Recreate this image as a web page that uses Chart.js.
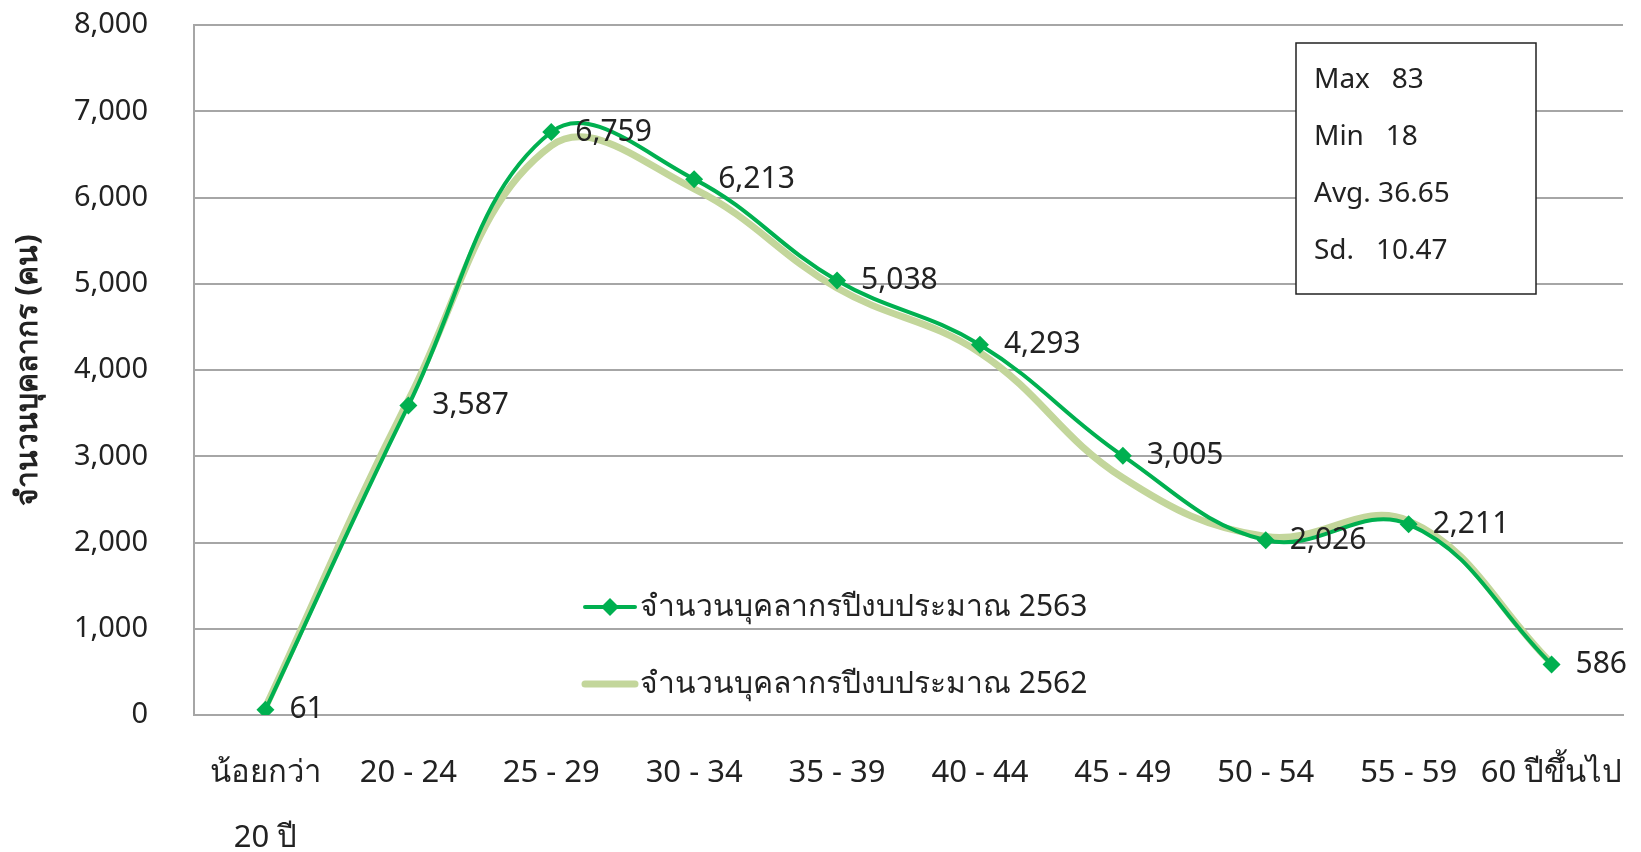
<!DOCTYPE html>
<html>
<head>
<meta charset="utf-8">
<script src="https://cdn.jsdelivr.net/npm/chart.js@4.4.0/dist/chart.umd.min.js"></script>
<style>
  html, body { margin: 0; padding: 0; background: #fff; }
  #wrap { width: 1641px; height: 852px; position: relative; }
</style>
</head>
<body>
<div id="wrap"><canvas id="lineChart" width="1641" height="852"></canvas></div>
<script>
// age groups
const categories = [['น้อยกว่า', '20 ปี'], '20 - 24', '25 - 29', '30 - 34', '35 - 39',
  '40 - 44', '45 - 49', '50 - 54', '55 - 59', '60 ปีขึ้นไป'];
// staff counts
const staff2563 = [61, 3587, 6759, 6213, 5038, 4293, 3005, 2026, 2211, 586];
const staff2562 = [90, 3650, 6600, 6100, 4950, 4200, 2750, 2070, 2250, 600];
const seriesNames = ['จำนวนบุคลากรปีงบประมาณ 2563', 'จำนวนบุคลากรปีงบประมาณ 2562'];
const yTicks = [0, 1000, 2000, 3000, 4000, 5000, 6000, 7000, 8000];
const statLines = ['Max   83', 'Min   18', 'Avg. 36.65', 'Sd.   10.47'];

const thaiFont = "'Liberation Sans Narrow', 'Noto Sans', sans-serif";
const numFont = "'Noto Sans', 'DejaVu Sans', sans-serif";

// labels next to the dark series points
const pointLabels = {
  id: 'pointLabels',
  afterDatasetsDraw(chart) {
    const ctx = chart.ctx;
    const meta = chart.getDatasetMeta(0);
    ctx.save();
    ctx.font = "30px " + thaiFont;
    ctx.fillStyle = '#222';
    ctx.textAlign = 'left';
    ctx.textBaseline = 'middle';
    meta.data.forEach((pt, i) => {
      ctx.fillText(staff2563[i].toLocaleString('en-US'), pt.x + 24, pt.y);
    });
    ctx.restore();
  }
};

// legend inside plot + stats box
const extras = {
  id: 'extras',
  afterDraw(chart) {
    const ctx = chart.ctx;
    const ds = chart.data.datasets;
    ctx.save();
    // legend
    const rows = [607, 684];
    ds.forEach((d, i) => {
      const y = rows[i];
      ctx.strokeStyle = d.borderColor;
      ctx.lineWidth = d.borderWidth;
      ctx.lineCap = 'round';
      ctx.beginPath();
      ctx.moveTo(585, y);
      ctx.lineTo(635, y);
      ctx.stroke();
      if (i === 0) {
        ctx.fillStyle = d.borderColor;
        ctx.beginPath();
        ctx.moveTo(610, y - 9);
        ctx.lineTo(619, y);
        ctx.lineTo(610, y + 9);
        ctx.lineTo(601, y);
        ctx.closePath();
        ctx.fill();
      }
      ctx.fillStyle = '#222';
      ctx.font = "30px " + thaiFont;
      ctx.textAlign = 'left';
      ctx.textBaseline = 'middle';
      ctx.fillText(d.label, 640, y);
    });
    // stats box
    ctx.fillStyle = '#fff';
    ctx.fillRect(1296, 43, 240, 251);
    ctx.strokeStyle = '#222';
    ctx.lineWidth = 1.5;
    ctx.strokeRect(1296, 43, 240, 251);
    ctx.fillStyle = '#222';
    ctx.font = "28px " + numFont;
    statLines.forEach((s, i) => {
      ctx.fillText(s, 1314, 80 + i * 57);
    });
    ctx.restore();
  }
};

const ctx = document.getElementById('lineChart').getContext('2d');
const myChart = new Chart(ctx, {
  type: 'line',
  data: {
    labels: categories,
    datasets: [
      {
        label: seriesNames[0],
        data: staff2563,
        borderColor: '#00B050',
        backgroundColor: '#00B050',
        borderWidth: 4,
        tension: 0.4,
        pointStyle: 'rectRot',
        pointRadius: 9,
        pointHoverRadius: 9,
        pointBorderWidth: 0
      },
      {
        label: seriesNames[1],
        data: staff2562,
        borderColor: '#C3D69B',
        backgroundColor: '#C3D69B',
        borderWidth: 7,
        tension: 0.4,
        pointRadius: 0,
        pointHoverRadius: 0
      }
    ]
  },
  options: {
    responsive: false,
    maintainAspectRatio: false,
    animation: false,
    layout: { padding: { top: 25, right: 18, left: 0, bottom: 0 } },
    plugins: {
      legend: { display: false },
      tooltip: { enabled: false }
    },
    scales: {
      x: {
        offset: true,
        grid: { display: false, drawTicks: false },
        border: { display: true, color: '#A6A6A6', width: 2 },
        ticks: {
          color: '#222',
          font: { family: thaiFont, size: 31, lineHeight: 2.1 },
          padding: 26,
          maxRotation: 0,
          autoSkip: false
        },
        afterFit(scale) {
          scale.height = 137;
          scale.paddingLeft = 0;
          scale.paddingRight = 0;
        }
      },
      y: {
        min: 0,
        max: 8000,
        afterBuildTicks(scale) { scale.ticks = yTicks.map(v => ({ value: v })); },
        grid: { color: '#A6A6A6', lineWidth: 2, drawTicks: false },
        border: { display: true, color: '#A6A6A6', width: 2 },
        ticks: {
          color: '#222',
          font: { family: numFont, size: 29 },
          padding: 46,
          callback: v => v.toLocaleString('en-US')
        },
        title: {
          display: true,
          text: 'จำนวนบุคลากร (คน)',
          color: '#222',
          font: { family: thaiFont, size: 30, weight: 'bold' },
          padding: { top: 10, bottom: 0 }
        },
        afterFit(scale) {
          scale.width = 194;
          scale.paddingTop = 0;
          scale.paddingBottom = 0;
        }
      }
    }
  },
  plugins: [pointLabels, extras]
});
</script>
</body>
</html>
